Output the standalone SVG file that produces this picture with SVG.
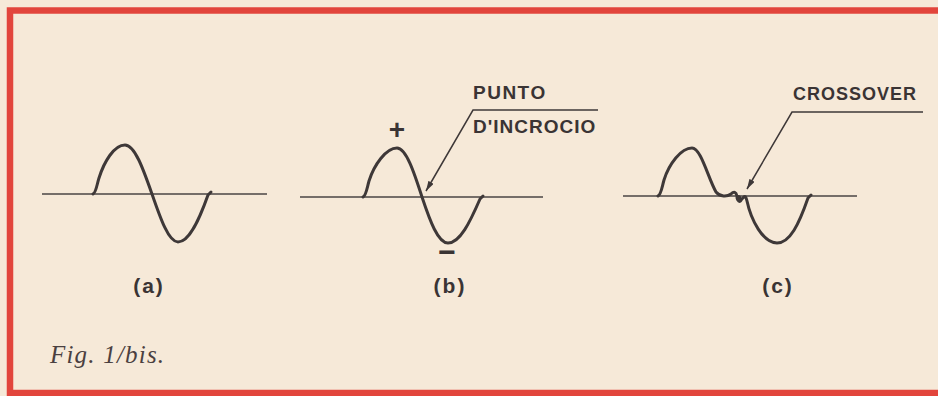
<svg xmlns="http://www.w3.org/2000/svg" width="938" height="396" viewBox="0 0 938 396">
<style>
.axis{stroke:#4a4444;stroke-width:1.6;fill:none}
.wave{stroke:#3e3838;stroke-width:3;fill:none;stroke-linecap:round;stroke-linejoin:round}
.lead{stroke:#3e3838;stroke-width:1.5;fill:none}
.lbl{font-family:"Liberation Sans",Arial,sans-serif;font-weight:bold;fill:#3a3434}
.cap{font-family:"Liberation Sans",Arial,sans-serif;font-weight:bold;fill:#3a3434;font-size:21px;letter-spacing:2px;text-anchor:middle}
.fig{font-family:"Liberation Serif","Times New Roman",serif;font-style:italic;fill:#4a4040;font-size:25px;letter-spacing:1.2px}
</style>
<defs>
<marker id="arr" viewBox="0 0 10 6" refX="10" refY="3" markerWidth="10" markerHeight="6" markerUnits="userSpaceOnUse" orient="auto">
<path d="M0,0 L10,3 L0,6 Z" fill="#3e3838"/>
</marker>
</defs>
<rect x="0" y="0" width="938" height="396" fill="#f6e9d8"/>
<rect x="10" y="10.5" width="940" height="382.5" fill="none" stroke="#e2453c" stroke-width="6.5"/>

<g id="panel-a">
<line class="axis" x1="42" y1="194" x2="267" y2="194"/>
<path class="wave" d="M93,194 C96,193 97,184 99,178 C104,162 114,145 125,145 C134.8,145 143.2,169 152,194 C160.5,218.6 168.6,242 178,242 C189.6,242 199.6,218.6 208,195 L211,192"/>
<text class="cap" x="149" y="293">(a)</text>
</g>

<g id="panel-b">
<line class="axis" x1="300" y1="197" x2="543" y2="197"/>
<path class="wave" d="M363,197 C366,196 367,188 369,181 C374,165 386,148 397,148 C406,148 414,172 422,197 C430,221 438,243 448,243 C460,243 470,222 480,199 L483,196"/>
<text class="lbl" x="397" y="139" font-size="28" text-anchor="middle">+</text>
<text class="lbl" x="447" y="262" font-size="30" text-anchor="middle">−</text>
<text class="cap" x="450" y="293">(b)</text>
</g>

<g id="panel-c">
<line class="axis" x1="623" y1="196" x2="857" y2="196"/>
<path class="wave" d="M658,196 C661,195 662,187 664,180 C669,164 681,148 692,148 C701,148 708,178 716,192 C720,197 727,197 731,194 C734,191 736,192 737,196 C738,200 741,201 743,198 C745,195 746,197 747,201 C751,220 763,243 777,243 C790,243 799,224 808,198 L811,195"/>
<ellipse cx="739" cy="199" rx="3" ry="4" fill="#3e3838" transform="rotate(-30 739 199)"/>
<text class="cap" x="778" y="293">(c)</text>
</g>

<g id="label-punto">
<text class="lbl" x="473" y="99" font-size="19" letter-spacing="1.5">PUNTO</text>
<text class="lbl" x="473" y="133" font-size="19" letter-spacing="1">D'INCROCIO</text>
</g>

<g id="label-crossover">
<text class="lbl" x="793" y="100" font-size="18" letter-spacing="1">CROSSOVER</text>
</g>

<g id="connectors">
<polyline class="lead" points="598,110 473,110 426,191" marker-end="url(#arr)"/>
<polyline class="lead" points="923,112 792,112 747,189" marker-end="url(#arr)"/>
</g>

<text class="fig" x="50" y="363">Fig. 1/bis.</text>
</svg>
